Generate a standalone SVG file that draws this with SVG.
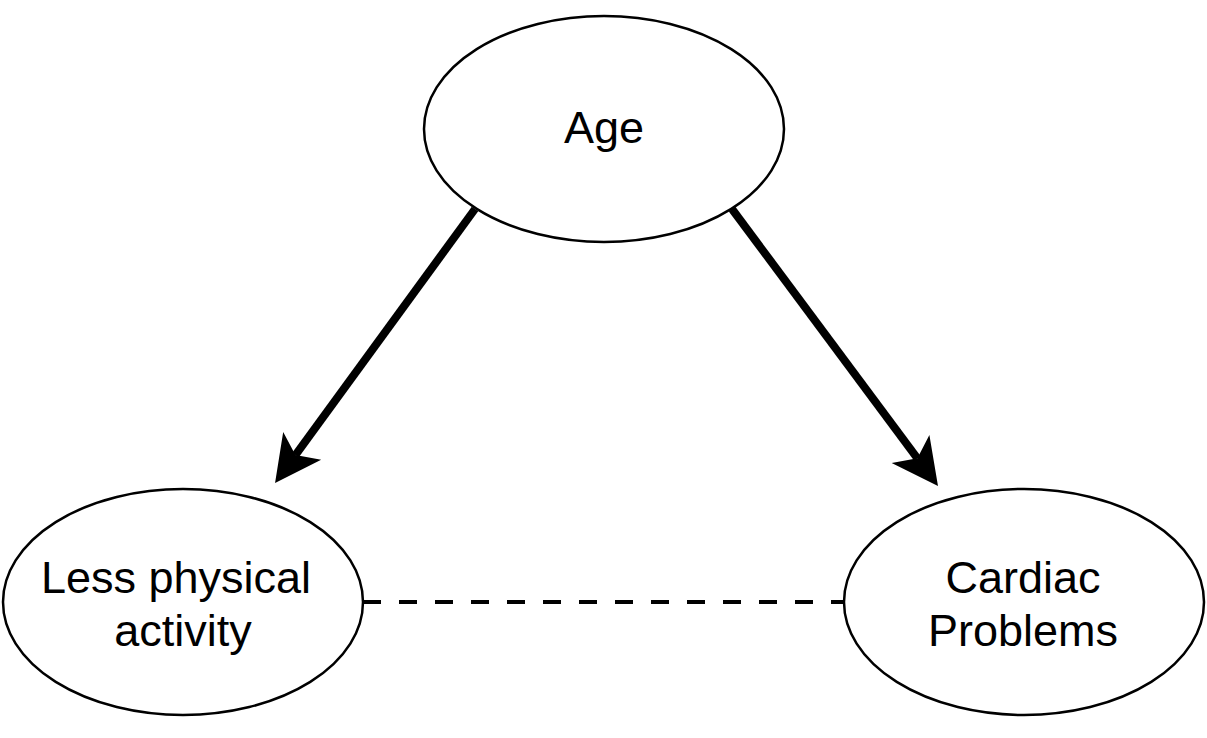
<svg xmlns="http://www.w3.org/2000/svg" width="1207" height="738" viewBox="0 0 1207 738">
<style>
.node ellipse{fill:#ffffff;stroke:#000000;stroke-width:2.5}
.node text{font-family:"Liberation Sans",Arial,Helvetica,sans-serif;font-size:45px;fill:#000000;text-anchor:middle}
.arrow{stroke:#000000;stroke-width:8;fill:none}
.dashed{stroke:#000000;stroke-width:4;fill:none;stroke-dasharray:18 18}
</style>
<defs>
<marker id="head" markerUnits="userSpaceOnUse" markerWidth="50" markerHeight="50" viewBox="0 -25 48 50" refX="11.5" refY="0" orient="auto" overflow="visible">
<path d="M0,-23.5 L46,0 L0,23.5 L11.5,0 Z" fill="#000000" stroke="none"/>
</marker>
</defs>
<rect width="1207" height="738" fill="#ffffff"/>
<g id="connectors">
<line class="arrow" x1="475" y1="209" x2="295.4" y2="455.1" marker-end="url(#head)"/>
<line class="arrow" x1="732" y1="209" x2="917.4" y2="458.3" marker-end="url(#head)"/>
<line class="dashed" x1="363" y1="602" x2="844" y2="602"/>
</g>
<g id="node-age" class="node">
<ellipse cx="604" cy="129" rx="180" ry="113"/>
<text x="604" y="143">Age</text>
</g>
<g id="node-less-physical-activity" class="node">
<ellipse cx="183" cy="602" rx="180" ry="113"/>
<text x="176" y="593">Less physical</text>
<text x="183" y="646">activity</text>
</g>
<g id="node-cardiac-problems" class="node">
<ellipse cx="1024" cy="602" rx="180" ry="113"/>
<text x="1023" y="593">Cardiac</text>
<text x="1023" y="646">Problems</text>
</g>
</svg>
